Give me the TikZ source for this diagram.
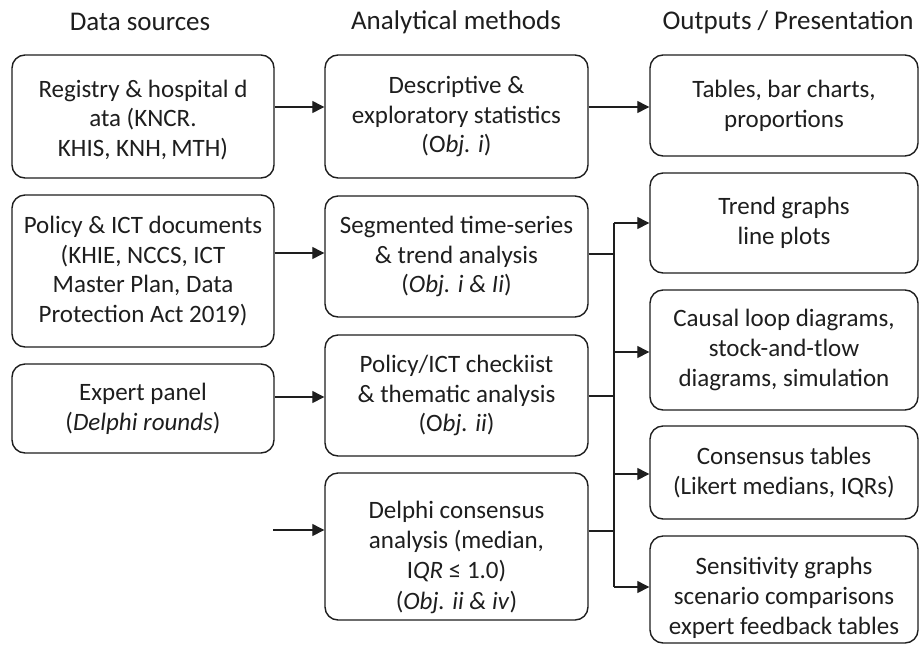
\documentclass[tikz,border=0pt]{standalone}
\usepackage{fontspec}
\setmainfont{Carlito}
\usetikzlibrary{arrows.meta}
\definecolor{ink}{HTML}{1E1E1E}
\begin{document}
\begin{tikzpicture}[x=1pt,y=-1pt,
  box/.style={draw=ink, line width=1.4pt, rounded corners=13pt, align=center,
    inner sep=0pt, text=ink, font=\fontsize{25}{29.8}\selectfont},
  txt/.style={align=center, inner sep=0pt, text=ink, font=\fontsize{25}{29.8}\selectfont},
  lbox/.style={box, minimum width=262pt},
  mbox/.style={box, minimum width=263pt},
  rbox/.style={box, minimum width=268pt},
  head/.style={text=ink, font=\fontsize{27}{31}\selectfont},
  link/.style={draw=ink, line width=1.3pt},
  arr/.style={link, -{Triangle[length=12pt,width=12pt]}}]
\useasboundingbox[fill=white] (0,0) rectangle (920,646);

% column headings
\node[head] (h1) at (140,22) {Data sources};
\node[head] (h2) at (456,22) {Analytical methods};
\node[head] (h3) at (788,22) {Outputs / Presentation};

% data sources
\node[lbox, minimum height=123pt] (L1) at (143,116.5) {};
\node[txt] (L1t) at (143,120) {Registry \& hospital d\\ata (KNCR.\\KHIS, KNH,\,MTH)};
\node[lbox, minimum height=152pt] (L2) at (143,271)
  {Policy \& ICT documents\\(KHIE, NCCS, ICT\\Master Plan, Data\\Protection Act 2019)};
\node[lbox, minimum height=89pt] (L3) at (143,408.5)
  {Expert panel\\(\textit{Delphi rounds})};

% analytical methods
\node[mbox, minimum height=123pt] (M1) at (456.5,116.5)
  {Descriptive \&\\exploratory statistics\\(O\textit{bj. i})};
\node[mbox, minimum height=121pt] (M2) at (456.5,256.5)
  {Segmented time-series\\\& trend analysis\\(\textit{Obj. i \& Ii})};
\node[mbox, minimum height=121pt] (M3) at (456.5,395.5)
  {Policy/ICT checkiist\\\& thematic analysis\\(O\textit{bj. ii})};
\node[mbox, minimum height=147pt] (M4) at (456.5,546.5) {};
\node[txt, font=\fontsize{25}{30.3}\selectfont] (M4t) at (456.5,557)
  {Delphi consensus\\analysis (median,\\I\textit{QR} ≤ 1.0)\\(\textit{Obj. ii \& iv})};

% outputs
\node[rbox, minimum height=101pt] (R1) at (784,105.5)
  {Tables, bar charts,\\proportions};
\node[rbox, minimum height=100pt] (R2) at (784,223)
  {Trend graphs\\line plots};
\node[rbox, minimum height=120pt] (R3) at (784,350)
  {Causal loop diagrams,\\stock-and-tlow\\diagrams, simulation};
\node[rbox, minimum height=93pt] (R4) at (784,472.5)
  {Consensus tables\\(Likert medians, IQRs)};
\node[rbox, minimum height=107pt] (R5) at (784,589.5) {};
\node[txt] (R5t) at (784,598)
  {Sensitivity graphs\\scenario comparisons\\expert feedback tables};

% bus collecting the lower methods
\coordinate (busTop) at (614,223);
\coordinate (busBot) at (614,587);
\coordinate (feed) at (273,530);

% straight connections
\draw[arr] (L1.east |- 0,107) -- (M1.west |- 0,107);
\draw[arr] (M1.east |- 0,107) -- (R1.west |- 0,107);
\draw[arr] (L2.east |- 0,253) -- (M2.west |- 0,253);
\draw[arr] (L3.east |- 0,397) -- (M3.west |- 0,397);
\draw[arr] (feed) -- (M4.west |- feed);

% into the bus
\draw[link] (M2.east |- 0,254) -- (busTop |- 0,254);
\draw[link] (M3.east |- 0,396) -- (busTop |- 0,396);
\draw[link] (M4.east |- 0,531) -- (busTop |- 0,531);
\draw[link] (busTop) -- (busBot);

% out of the bus
\draw[arr] (busTop) -- (R2.west |- busTop);
\draw[arr] (busTop |- 0,352) -- (R3.west |- 0,352);
\draw[arr] (busTop |- 0,474) -- (R4.west |- 0,474);
\draw[arr] (busBot) -- (R5.west |- busBot);
\end{tikzpicture}
\end{document}
